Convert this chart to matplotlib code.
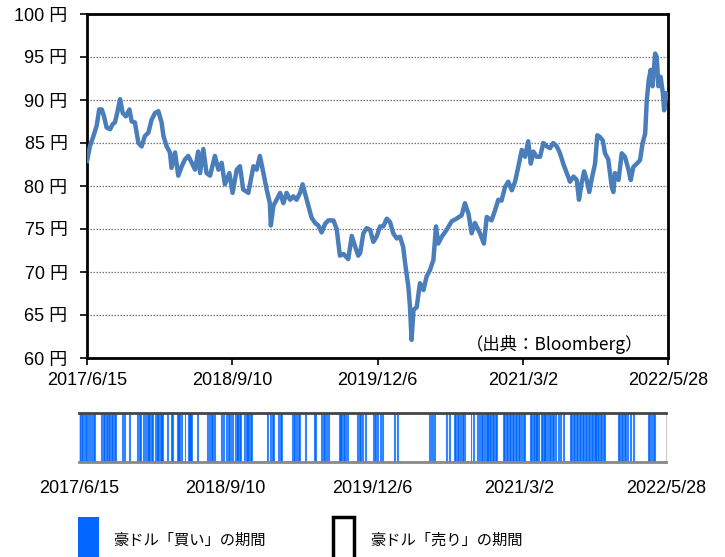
import numpy as np
import pandas as pd
import matplotlib
matplotlib.use("Agg")
import matplotlib.pyplot as plt
from matplotlib.patches import Rectangle

plt.rcParams['font.family'] = ['Liberation Sans', 'Noto Sans CJK JP', 'DejaVu Sans']
JP = ['Noto Sans CJK JP', 'DejaVu Sans']

start = pd.Timestamp('2017-06-15')
end = pd.Timestamp('2022-05-28')

# 豪ドル/円 (days since 2017/6/15, rate)
day_offset = [0, 9, 20, 30, 38, 46, 53, 61, 72, 80, 87, 94, 103, 111, 121, 132, 139, 149,
              160, 170, 180, 191, 201, 212, 222, 232, 238, 248, 258, 263, 274, 284, 295, 305,
              315, 326, 336, 346, 352, 362, 372, 383, 398, 409, 419, 429, 443, 453, 466, 476,
              486, 502, 518, 528, 538, 549, 559, 569, 572, 580, 590, 601, 611, 621, 632, 642,
              652, 663, 671, 678, 689, 699, 710, 720, 730, 741, 751, 767, 777, 787, 798, 813,
              824, 834, 844, 850, 860, 870, 881, 891, 901, 912, 922, 933, 943, 953, 964, 974,
              984, 990, 1000, 1005, 1010, 1016, 1026, 1036, 1047, 1057, 1067, 1078, 1086, 1093,
              1104, 1119, 1135, 1150, 1166, 1176, 1187, 1197, 1207, 1223, 1235, 1244, 1259, 1270,
              1280, 1290, 1301, 1311, 1322, 1332, 1342, 1353, 1363, 1373, 1381, 1389, 1399, 1410,
              1420, 1431, 1441, 1451, 1462, 1472, 1482, 1493, 1503, 1514, 1524, 1531, 1539, 1547,
              1555, 1563, 1570, 1581, 1588, 1596, 1605, 1612, 1622, 1633, 1638, 1643, 1654, 1664,
              1674, 1685, 1692, 1700, 1711, 1721, 1729, 1737, 1742, 1748, 1754, 1760, 1768, 1773,
              1778, 1785, 1792, 1796, 1802, 1808]
rate = [82.9, 84.6, 85.8, 87.0, 88.9, 88.9, 88.1, 86.8, 86.6, 87.2, 87.4, 88.5, 90.1, 88.5,
        88.1, 88.9, 87.5, 87.4, 85.0, 84.6, 85.8, 86.2, 87.7, 88.5, 88.7, 87.4, 85.8, 84.6,
        83.9, 82.1, 83.9, 81.2, 82.3, 83.1, 83.5, 82.7, 81.9, 84.0, 81.5, 84.3, 81.5, 81.2,
        83.5, 81.9, 82.7, 80.2, 81.5, 79.2, 81.9, 82.3, 79.6, 79.2, 82.3, 81.9, 83.5, 81.5,
        79.6, 78.0, 75.4, 77.7, 78.4, 79.2, 78.0, 79.2, 78.4, 78.8, 78.4, 79.2, 80.2, 79.2,
        77.7, 76.3, 75.7, 75.4, 74.6, 75.6, 76.0, 76.0, 75.0, 71.9, 72.1, 71.5, 74.2, 73.0,
        71.9, 72.2, 74.5, 75.1, 74.9, 73.5, 74.1, 75.3, 75.3, 76.2, 75.8, 74.5, 73.9, 74.1,
        72.9, 71.0, 68.3, 66.0, 62.1, 65.6, 65.9, 68.7, 67.9, 69.5, 70.2, 71.4, 75.3, 73.3,
        74.1, 74.9, 75.9, 76.2, 76.6, 78.0, 76.8, 74.5, 75.7, 74.5, 73.3, 76.4, 76.0, 77.2,
        78.4, 78.3, 79.9, 80.5, 79.5, 80.5, 82.2, 84.2, 83.4, 85.2, 82.6, 84.0, 83.4, 83.4,
        85.0, 84.6, 84.4, 85.0, 84.6, 83.8, 82.6, 81.5, 80.5, 81.1, 80.7, 78.4, 80.3, 81.7,
        80.7, 79.3, 80.7, 82.6, 85.9, 85.7, 85.3, 83.8, 83.1, 79.9, 79.3, 81.5, 80.7, 83.8,
        83.4, 81.9, 80.7, 82.2, 82.6, 83.0, 85.0, 86.1, 90.0, 92.3, 93.5, 91.6, 95.4, 95.0,
        91.6, 92.7, 90.8, 88.8, 90.8, 90.4]

# 「買い」の期間 (start day, end day since 2017/6/15)
buy_periods = [
    (0, 5), (7, 12), (14, 16), (18, 24), (27, 29), (31, 35), (38, 40), (43, 49),
    (67, 72), (75, 80), (82, 88), (90, 96), (98, 106), (108, 113), (133, 135), (139, 141),
    (154, 156), (178, 181), (184, 192), (198, 200), (203, 206), (209, 218), (221, 229),
    (233, 235), (238, 246), (250, 258), (272, 274), (283, 288), (301, 310), (313, 317),
    (326, 328), (337, 347), (363, 367), (393, 397), (399, 405), (407, 413), (415, 419),
    (436, 437), (441, 443), (446, 448), (453, 456), (459, 464), (466, 468), (470, 474),
    (480, 483), (485, 492), (494, 499), (508, 512), (515, 524), (526, 533), (580, 583),
    (587, 591), (594, 600), (613, 615), (620, 624), (655, 658), (660, 666), (668, 672),
    (675, 681), (696, 699), (725, 729), (745, 748), (750, 758), (760, 764), (767, 771),
    (802, 810), (813, 818), (821, 824), (827, 830), (856, 858), (861, 868), (871, 876),
    (880, 885), (905, 907), (910, 914), (917, 921), (926, 930), (933, 936), (970, 974),
    (979, 983), (1078, 1081), (1083, 1087), (1089, 1092), (1094, 1096), (1131, 1134),
    (1139, 1142), (1156, 1160), (1163, 1170), (1172, 1178), (1180, 1186), (1188, 1190),
    (1206, 1208), (1214, 1216), (1225, 1229), (1231, 1236), (1238, 1245), (1247, 1252),
    (1254, 1262), (1264, 1270), (1272, 1278), (1281, 1286), (1307, 1312), (1314, 1322),
    (1324, 1331), (1333, 1340), (1342, 1350), (1352, 1358), (1360, 1366), (1368, 1374),
    (1389, 1395), (1397, 1404), (1406, 1413), (1415, 1418), (1422, 1428), (1430, 1438),
    (1440, 1446), (1449, 1455), (1458, 1462), (1466, 1470), (1474, 1478), (1482, 1485),
    (1490, 1493), (1512, 1518), (1521, 1528), (1530, 1537), (1539, 1546), (1548, 1556),
    (1558, 1565), (1567, 1575), (1577, 1584), (1586, 1594), (1596, 1603), (1606, 1612),
    (1615, 1620), (1661, 1666), (1669, 1675), (1678, 1684), (1687, 1692), (1696, 1700),
    (1705, 1710), (1754, 1758), (1761, 1766), (1769, 1773),
]

tick_labels = ['2017/6/15', '2018/9/10', '2019/12/6', '2021/3/2', '2022/5/28']
y_ticks = [60, 65, 70, 75, 80, 85, 90, 95, 100]

dates = start + pd.to_timedelta(day_offset, unit='D')
tick_pos = pd.to_datetime(tick_labels, format='%Y/%m/%d')

fig = plt.figure(figsize=(7.25, 5.57), dpi=100)

# 上段: 為替レート
ax = fig.add_axes([87 / 725, 1 - 358 / 557, 581 / 725, 344 / 557])
ax.plot(dates, rate, color='#4a7ebb', lw=3.2, solid_joinstyle='round', zorder=3)
ax.set_xlim(start, end)
ax.set_ylim(60, 100)
ax.set_yticks(y_ticks)
ax.set_yticklabels([f'{v} 円' for v in y_ticks], fontsize=13)
ax.set_xticks(tick_pos)
ax.set_xticklabels(tick_labels, fontsize=13)
ax.tick_params(axis='both', direction='out', length=5, width=1.2, color='black')
ax.tick_params(axis='y', pad=9)
ax.tick_params(axis='x', pad=5)
for v in y_ticks[1:-1]:
    ax.axhline(v, color='#777777', lw=0.9, linestyle=(0, (1.2, 1.2)), zorder=1)
for s in ax.spines.values():
    s.set_color('black')
    s.set_linewidth(2)
ax.text(0.958, 0.022, '（出典：Bloomberg）', transform=ax.transAxes, ha='right',
        va='baseline', fontsize=12.5, family=JP)

# 下段: 売買期間
ax2 = fig.add_axes([79 / 725, 1 - 462 / 557, 587 / 725, 49.5 / 557])
for s0, s1 in buy_periods:
    ax2.axvspan(start + pd.Timedelta(days=s0), start + pd.Timedelta(days=s1),
                facecolor='#0066ff', edgecolor='#3385ff', lw=0.8)
ax2.set_xlim(start, end)
ax2.set_ylim(0, 1)
ax2.set_yticks([])
ax2.set_xticks(tick_pos)
ax2.set_xticklabels(tick_labels, fontsize=13)
ax2.tick_params(axis='x', length=0, pad=13)
ax2.spines['top'].set_color('#444444')
ax2.spines['top'].set_linewidth(2)
ax2.spines['bottom'].set_color('#888888')
ax2.spines['bottom'].set_linewidth(2)
ax2.spines['left'].set_color('#cccccc')
ax2.spines['right'].set_color('#cccccc')

# 凡例
fig.add_artist(Rectangle((78 / 725, -0.01), 21 / 725, 46 / 557, transform=fig.transFigure,
                         facecolor='#0066ff', edgecolor='none'))
fig.add_artist(Rectangle((333 / 725, -0.01), 21 / 725, 46 / 557, transform=fig.transFigure,
                         facecolor='none', edgecolor='black', lw=2.5))
fig.text(113 / 725, 1 - 540 / 557, '豪ドル「買い」の期間', va='center', fontsize=11, family=JP)
fig.text(370 / 725, 1 - 540 / 557, '豪ドル「売り」の期間', va='center', fontsize=11, family=JP)

fig.savefig('out.png', dpi=100)
